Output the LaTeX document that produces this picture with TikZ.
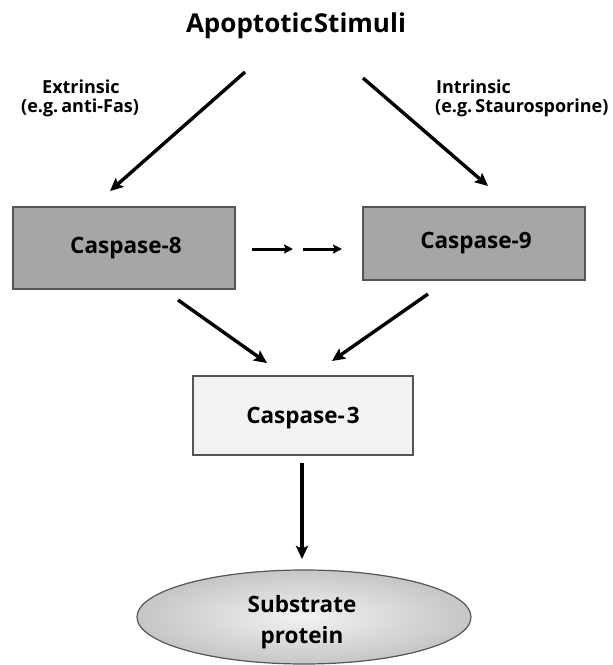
\documentclass[tikz,border=0pt]{standalone}
\usepackage{fontspec}
\setmainfont{Open Sans}
\usetikzlibrary{arrows.meta,shapes.geometric}
\definecolor{boxdark}{HTML}{A6A6A6}
\definecolor{boxlight}{HTML}{F2F2F2}
\definecolor{edge}{HTML}{555555}
\tikzset{
  x=1pt,y=-1pt,
  lbl/.style={font=\bfseries\fontsize{18}{20}\selectfont, anchor=base west, inner sep=0pt},
  boxtxt/.style={font=\bfseries\fontsize{22.5}{26}\selectfont, anchor=base, inner sep=0pt},
  casbox/.style={draw=edge, line width=1.6pt, inner sep=0pt},
  bigarrow/.style={line width=3.4pt, -{Stealth[length=13pt,width=12pt,inset=2.5pt]}},
  smallarrow/.style={line width=3pt, -{Stealth[length=9pt,width=9pt,inset=1.5pt]}},
}
\begin{document}
\begin{tikzpicture}
\useasboundingbox (0,0) rectangle (613,665);
% title
\node[font=\bfseries\fontsize{26}{30}\selectfont, inner sep=0pt, anchor=base] (title) at (296,32) {Apoptotic\hspace{1pt}Stimuli};
\coordinate (ls) at (245,72);
\coordinate (le) at (110,191);
\coordinate (rs) at (363,78);
\coordinate (re) at (488,186);
\draw[bigarrow] (ls) -- (le);
\draw[bigarrow] (rs) -- (re);
% labels
\node[lbl] (ext) at (42,93) {Extrinsic};
\node[lbl] (extx) at (21,112) {(e.g.\,anti-Fas)};
\node[lbl] (int) at (436,93) {Intrinsic};
\node[lbl] (intx) at (435,112) {(e.g.\,Staurosporine)};
% boxes
\node[casbox, fill=boxdark, minimum width=222pt, minimum height=82pt] (c8box) at (124,248) {};
\node[boxtxt] (c8) at (126,253) {Caspase-8};
\node[casbox, fill=boxdark, minimum width=222pt, minimum height=73pt] (c9box) at (474,243.5) {};
\node[boxtxt] (c9) at (476,248) {Caspase-9};
\node[casbox, fill=boxlight, minimum width=220pt, minimum height=79pt] (c3box) at (303,415.5) {};
\node[boxtxt] (c3) at (303,423) {Caspase-\hspace{2pt}3};
% dashed arrows
\coordinate (d1s) at (252,249);
\coordinate (d1e) at (293,249);
\coordinate (d2s) at (303,249);
\coordinate (d2e) at (342,249);
\draw[smallarrow] (d1s) -- (d1e);
\draw[smallarrow] (d2s) -- (d2e);
% to caspase 3
\coordinate (a8s) at (178,300);
\coordinate (a8e) at (267,363);
\coordinate (a9s) at (428,294);
\coordinate (a9e) at (332,361);
\draw[bigarrow] (a8s) -- (a8e);
\draw[bigarrow] (a9s) -- (a9e);
% down arrow
\coordinate (ds) at (302,463);
\coordinate (de) at (302,559);
\draw[bigarrow] (ds) -- (de);
% ellipse
\node[ellipse, draw=edge, line width=1.2pt, minimum width=334pt, minimum height=94pt, inner sep=0pt,
  inner color=gray!10, outer color=gray!45] (subbox) at (304,617) {};
\node[boxtxt] (sub1) at (302,612) {Substrate};
\node[boxtxt] (sub2) at (302,643) {protein};
\end{tikzpicture}
\end{document}
